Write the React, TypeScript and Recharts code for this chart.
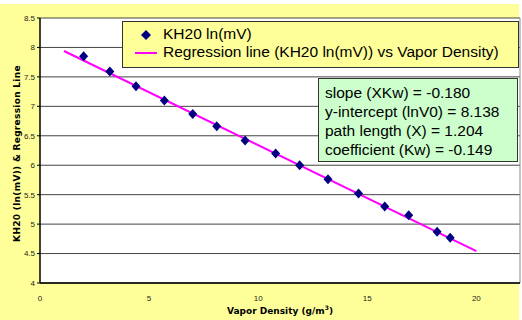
import { ScatterChart, Scatter, XAxis, YAxis, CartesianGrid, Legend, ReferenceLine } from 'recharts';

// measured points (Vapor Density g/m3, KH20 ln(mV))
const vaporDensity = [2.0, 3.2, 4.4, 5.7, 7.0, 8.1, 9.4, 10.8, 11.9, 13.2, 14.6, 15.8, 16.9, 18.2, 18.8];
const lnMv = [7.85, 7.59, 7.34, 7.1, 6.87, 6.66, 6.42, 6.2, 6.0, 5.76, 5.52, 5.3, 5.15, 4.87, 4.77];

// regression line end points
const regX = [1.1, 20];
const regY = [7.94, 4.54];

const xTicks = [0, 5, 10, 15, 20];
const yTicks = [4, 4.5, 5, 5.5, 6, 6.5, 7, 7.5, 8, 8.5];

const statLines = [
  'slope (XKw) = -0.180',
  'y-intercept (lnV0) = 8.138',
  'path length (X) = 1.204',
  'coefficient (Kw) = -0.149',
];

const points = vaporDensity.map((x, i) => ({ x, y: lnMv[i] }));
const regression = regX.map((x, i) => ({ x, y: regY[i] }));

const NAVY = '#000080';
const MAGENTA = '#FF00FF';
const ARIAL = '"Liberation Sans", Arial, sans-serif';
const VERDANA = '"DejaVu Sans", Verdana, sans-serif';

const Diamond = (props: any) => {
  const { cx, cy } = props;
  if (cx == null || cy == null) return <g />;
  return (
    <polygon
      points={`${cx},${cy - 5} ${cx + 4.5},${cy} ${cx},${cy + 5} ${cx - 4.5},${cy}`}
      fill={NAVY}
    />
  );
};

const LegendBox = () => (
  <div
    style={{
      width: 395,
      height: 45,
      background: '#FFFF99',
      border: '1px solid #333',
      fontFamily: ARIAL,
      fontSize: 15.5,
      color: '#000',
      position: 'relative',
    }}
  >
    <svg width={30} height={45} style={{ position: 'absolute', left: 8, top: 0 }}>
      <polygon points="15,8 20,13 15,18 10,13" fill={NAVY} />
      <line x1={4} x2={26} y1={31} y2={31} stroke={MAGENTA} strokeWidth={2} />
    </svg>
    <div style={{ position: 'absolute', left: 40, top: 3, whiteSpace: 'nowrap' }}>KH20 ln(mV)</div>
    <div style={{ position: 'absolute', left: 40, top: 21, whiteSpace: 'nowrap' }}>
      Regression line (KH20 ln(mV)) vs Vapor Density)
    </div>
  </div>
);

const XTitle = (props: any) => {
  const { viewBox } = props;
  const cx = viewBox.x + viewBox.width / 2;
  return (
    <text x={cx} y={viewBox.y + 31} textAnchor="middle" fontFamily={VERDANA} fontWeight="bold" fontSize={9} fill="#000">
      Vapor Density (g/m
      <tspan dy={-4} fontSize={6}>3</tspan>
      <tspan dy={4}>)</tspan>
    </text>
  );
};

const YTitle = (props: any) => {
  const { viewBox } = props;
  const x = viewBox.x + 17;
  const y = viewBox.y + viewBox.height / 2 + 3;
  return (
    <text
      x={x}
      y={y}
      transform={`rotate(-90 ${x} ${y})`}
      textAnchor="middle"
      dominantBaseline="central"
      fontFamily={VERDANA}
      fontWeight="bold"
      fontSize={9}
      letterSpacing={0.3}
      fill="#000"
    >
      KH20 (ln(mV)) &amp; Regression Line
    </text>
  );
};

export default function App() {
  return (
    <div style={{ position: 'absolute', left: 0, top: 0, width: 522, height: 320, background: '#fff' }}>
      <div style={{ position: 'absolute', left: 0, top: 4, width: 519, height: 316, background: '#FFFF99' }} />
      <ScatterChart width={522} height={320} margin={{ top: 18, right: 2, left: 0, bottom: 0 }}>
        <CartesianGrid vertical={false} fill="#fff" stroke="#444" />
        <XAxis
          type="number"
          dataKey="x"
          domain={[0, 22]}
          ticks={xTicks}
          height={37}
          axisLine={{ stroke: '#000', strokeWidth: 1.5 }}
          tickLine={false}
          tickMargin={6}
          tick={{ fontSize: 8, fill: '#222', fontFamily: ARIAL }}
          allowDataOverflow
          label={<XTitle />}
        />
        <YAxis
          type="number"
          dataKey="y"
          domain={[4, 8.5]}
          ticks={yTicks}
          width={40}
          axisLine={{ stroke: '#000', strokeWidth: 1.5 }}
          tickLine={{ stroke: '#000' }}
          tickSize={3}
          tickMargin={2}
          tick={{ fontSize: 8, fill: '#222', fontFamily: ARIAL }}
          label={<YTitle />}
        />
        <ReferenceLine x={22} stroke="#888" />
        <Scatter
          name="Regression line"
          data={regression}
          line={{ stroke: MAGENTA, strokeWidth: 2 }}
          shape={() => <g />}
          isAnimationActive={false}
        />
        <Scatter name="KH20 ln(mV)" data={points} shape={<Diamond />} isAnimationActive={false} />
        <Legend
          layout="horizontal"
          verticalAlign="middle"
          align="center"
          content={<LegendBox />}
          wrapperStyle={{ position: 'absolute', left: 122, top: 21, width: 397, height: 47 }}
        />
      </ScatterChart>
      <div
        style={{
          position: 'absolute',
          left: 318,
          top: 78,
          width: 200,
          height: 84,
          boxSizing: 'border-box',
          background: '#CCFFCC',
          border: '1px solid #333',
          fontFamily: ARIAL,
          fontSize: 15.5,
          lineHeight: '19px',
          padding: '4px 0 0 6px',
          color: '#000',
        }}
      >
        {statLines.map((s) => (
          <div key={s} style={{ whiteSpace: 'nowrap' }}>{s}</div>
        ))}
      </div>
    </div>
  );
}
